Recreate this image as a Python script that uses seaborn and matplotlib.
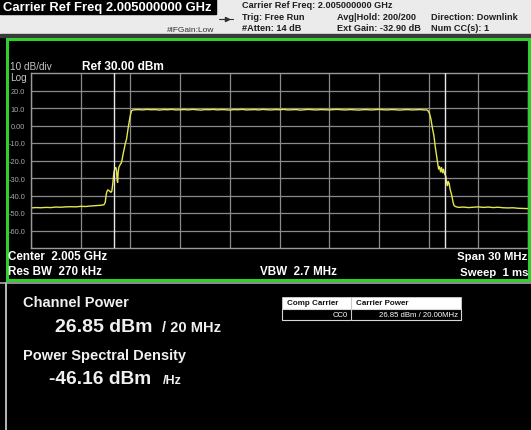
import matplotlib
matplotlib.use("Agg")
import matplotlib.pyplot as plt
import seaborn as sns
import pandas as pd
from matplotlib.patches import Rectangle
from matplotlib.lines import Line2D

# ---------------- data ----------------
floor_left_freq = [-15.0, -14.7, -14.4, -14.1, -13.8, -13.5, -13.2, -12.9, -12.6, -12.3,
                   -12.0, -11.7, -11.4, -11.1, -10.8, -10.6]
floor_left_level = [-47.1, -46.9, -47.0, -46.8, -46.9, -46.6, -46.7, -46.5, -46.4, -46.5,
                    -46.2, -46.3, -46.0, -45.8, -45.6, -45.3]

rise_freq = [-10.52, -10.46, -10.42, -10.36, -10.3, -10.24, -10.18, -10.12, -10.06, -10.02,
             -9.98, -9.93, -9.88, -9.84, -9.8, -9.77, -9.74, -9.7, -9.65, -9.6, -9.55,
             -9.5, -9.44, -9.38, -9.3, -9.23, -9.16, -9.08, -9.0, -8.93, -8.88]
rise_level = [-44.0, -39.5, -37.8, -36.8, -37.2, -37.6, -38.2, -37.5, -33.0, -29.0,
              -26.0, -24.5, -24.0, -25.5, -31.5, -32.5, -27.0, -24.0, -23.0, -22.0, -21.5,
              -19.5, -16.3, -13.5, -10.0, -7.7, -3.0, 1.8, 6.0, 8.4, 8.8]

band_freq = [-8.75, -8.5, -8.25, -8.0, -7.75, -7.5, -7.25, -7.0, -6.75, -6.5, -6.25, -6.0,
             -5.75, -5.5, -5.25, -5.0, -4.75, -4.5, -4.25, -4.0, -3.75, -3.5, -3.25, -3.0,
             -2.75, -2.5, -2.25, -2.0, -1.75, -1.5, -1.25, -1.0, -0.75, -0.5, -0.25, 0.0,
             0.25, 0.5, 0.75, 1.0, 1.25, 1.5, 1.75, 2.0, 2.25, 2.5, 2.75, 3.0, 3.25, 3.5,
             3.75, 4.0, 4.25, 4.5, 4.75, 5.0, 5.25, 5.5, 5.75, 6.0, 6.25, 6.5, 6.75, 7.0,
             7.25, 7.5, 7.75, 8.0, 8.25, 8.5, 8.75]
band_level = [9.0, 9.1, 8.9, 9.2, 9.0, 9.1, 8.8, 9.1, 9.0, 9.2, 8.9, 9.0,
              9.1, 8.9, 9.2, 9.0, 8.8, 9.1, 9.0, 9.2, 8.9, 9.1, 9.0, 8.8,
              9.1, 9.0, 9.2, 8.9, 9.0, 9.1, 8.9, 9.2, 9.0, 8.9, 9.1, 9.0,
              9.2, 8.9, 9.0, 9.1, 8.8, 9.0, 9.2, 9.0, 8.9, 9.1, 9.0, 8.9, 9.1, 9.2,
              9.0, 8.9, 9.1, 9.0, 8.8, 9.0, 9.1, 8.9, 9.0, 9.2, 9.0, 8.9, 9.1, 9.0,
              8.8, 9.0, 9.1, 8.9, 9.0, 9.1, 8.9]

fall_freq = [8.9, 8.95, 9.05, 9.14, 9.24, 9.32, 9.4, 9.48, 9.54, 9.6, 9.66, 9.72, 9.78,
             9.84, 9.9, 9.96, 10.04, 10.1, 10.14, 10.18, 10.24, 10.3, 10.4, 10.48, 10.54]
fall_level = [8.9, 8.6, 7.0, 3.7, -2.0, -5.8, -12.0, -17.2, -21.5, -24.9, -23.5, -26.5, -24.0,
              -27.0, -25.0, -27.5, -29.0, -33.5, -34.4, -32.0, -33.0, -36.5, -40.0, -44.0, -45.8]

floor_right_freq = [10.62, 10.8, 11.1, 11.4, 11.7, 12.0, 12.3, 12.6, 12.9, 13.2, 13.5,
                    13.8, 14.1, 14.4, 14.7, 15.0]
floor_right_level = [-46.3, -46.8, -46.6, -46.9, -46.7, -46.5, -46.8, -46.6, -46.9, -46.7,
                     -47.0, -47.1, -47.0, -47.3, -47.4, -47.5]

y_ticks = [20, 10, 0, -10, -20, -30, -40, -50, -60]
y_tick_labels = ["20.0", "10.0", "0.00", "-10.0", "-20.0", "-30.0", "-40.0", "-50.0", "-60.0"]
x_grid = [-15, -12, -9, -6, -3, 0, 3, 6, 9, 12, 15]
channel_edges = [-10, 10]

trace = pd.DataFrame({
    "freq": floor_left_freq + rise_freq + band_freq + fall_freq + floor_right_freq,
    "level": floor_left_level + rise_level + band_level + fall_level + floor_right_level,
})

# ---------------- figure ----------------
sns.set_style("dark")
plt.rcParams["font.family"] = ["Liberation Sans", "DejaVu Sans"]

W, H = 531, 431
fig = plt.figure(figsize=(W / 100, H / 100), dpi=100, facecolor="black")

# background layer (pixel coordinates, y downward)
bg = fig.add_axes([0, 0, 1, 1], zorder=0)
bg.set_xlim(0, W)
bg.set_ylim(H, 0)
bg.axis("off")
bg.add_patch(Rectangle((0, 0), W, H, color="black"))
bg.add_patch(Rectangle((0, 0), W, 35, color="#ebebeb"))
bg.add_patch(Rectangle((0, 0), 216, 15, color="black"))
bg.add_patch(Rectangle((0, 35), W, 3, color="#3a3a3a"))

# plot axes
L, R, T, B = 31, 528, 74, 249
ax = fig.add_axes([L / W, 1 - B / H, (R - L) / W, (B - T) / H], zorder=2)
ax.set_facecolor("black")
sns.lineplot(data=trace, x="freq", y="level", ax=ax, color="#e6e650",
             linewidth=1.0, estimator=None, sort=False)
ax.set_xlim(-15, 15)
ax.set_ylim(-70, 30)
ax.set_xticks(x_grid)
ax.set_xticklabels([])
ax.set_yticks(y_ticks)
ax.set_yticklabels(y_tick_labels)
ax.tick_params(axis="y", length=0, pad=4.2, labelsize=5.3, labelcolor="#a8a8a8")
ax.tick_params(axis="x", length=0)
ax.set_xlabel("")
ax.set_ylabel("")
ax.grid(True, color="#8a8a8a", linewidth=0.9)
for sp in ax.spines.values():
    sp.set_color("#9a9a9a")
    sp.set_linewidth(1.0)
for e in channel_edges:
    ax.axvline(e, color="#e8e8e8", linewidth=1.0, zorder=3)

# overlay layer
ov = fig.add_axes([0, 0, 1, 1], zorder=3)
ov.set_xlim(0, W)
ov.set_ylim(H, 0)
ov.axis("off")
ov.patch.set_alpha(0)

# green frame around trace panel
ov.add_patch(Rectangle((6.5, 40), 522.5, 240.5, fill=False, edgecolor="#2fcf2f", linewidth=2.2))
# separator and lower panel borders
ov.add_line(Line2D([0, W], [283.5, 283.5], color="#a8a8a8", linewidth=1.2))
ov.add_line(Line2D([5.5, 5.5], [284, H], color="#b8b8b8", linewidth=1.4))

def txt(x, y, s, size, color="white", weight="bold", ha="left", va="center"):
    ov.text(x, y, s, fontsize=size, color=color, fontweight=weight, ha=ha, va=va)

# header
txt(3, 7.5, "Carrier Ref Freq 2.005000000 GHz", 9.4)
txt(242, 5, "Carrier Ref Freq: 2.005000000 GHz", 6.6, color="#1e1e1e")
txt(242, 17, "Trig: Free Run", 6.6, color="#1e1e1e")
txt(242, 28.5, "#Atten: 14 dB", 6.6, color="#1e1e1e")
txt(337, 17, "Avg|Hold: 200/200", 6.6, color="#1e1e1e")
txt(337, 28.5, "Ext Gain: -32.90 dB", 6.6, color="#1e1e1e")
txt(431, 17, "Direction: Downlink", 6.6, color="#1e1e1e")
txt(431, 28.5, "Num CC(s): 1", 6.6, color="#1e1e1e")
txt(167, 30.5, "#IFGain:Low", 6.0, color="#303030", weight="normal")
ov.add_line(Line2D([219, 233], [20, 20], color="#303030", linewidth=0.8))
ov.plot([227], [20], marker=">", markersize=3, color="#303030")

# trace panel annotations
txt(10, 66.5, "10 dB/div", 7.2, color="#c4c4c4", weight="normal")
txt(82, 66.5, "Ref 30.00 dBm", 8.6)
txt(10, 78, "Log", 7.2, color="#c4c4c4", weight="normal")
txt(8, 257, "Center  2.005 GHz", 8.4)
txt(8, 272.5, "Res BW  270 kHz", 8.4)
txt(260, 272.5, "VBW  2.7 MHz", 8.4)
txt(527, 257, "Span 30 MHz", 8.2, ha="right")
txt(529, 273, "Sweep  1 ms", 8.2, ha="right")

# lower panel results
txt(23, 303, "Channel Power", 10.5, color="#f0f0f0")
ov.text(55, 332, "26.85 dBm", fontsize=14, color="#f0f0f0", fontweight="bold", va="baseline")
ov.text(162, 332, "/ 20 MHz", fontsize=10.5, color="#f0f0f0", fontweight="bold", va="baseline")
txt(23, 356.5, "Power Spectral Density", 10.5, color="#f0f0f0")
ov.text(49, 384, "-46.16 dBm", fontsize=13.8, color="#f0f0f0", fontweight="bold", va="baseline")
ov.text(163, 384, "/Hz", fontsize=9, color="#f0f0f0", fontweight="bold", va="baseline")

# result table
ov.add_patch(Rectangle((282, 298), 179, 12, facecolor="white", edgecolor="#d0d0d0", linewidth=0.6))
ov.add_patch(Rectangle((282, 310), 179, 11, facecolor="black", edgecolor="#d8d8d8", linewidth=0.8))
ov.add_line(Line2D([351, 351], [298, 321], color="#c8c8c8", linewidth=0.8))
txt(287, 304, "Comp Carrier", 5.8, color="#111111")
txt(356, 304, "Carrier Power", 5.8, color="#111111")
txt(348, 315.5, "CC0", 5.6, color="white", weight="normal", ha="right")
txt(458, 315.5, "26.85 dBm / 20.00MHz", 5.6, color="white", weight="normal", ha="right")

fig.savefig("out.png", dpi=100, facecolor="black")
